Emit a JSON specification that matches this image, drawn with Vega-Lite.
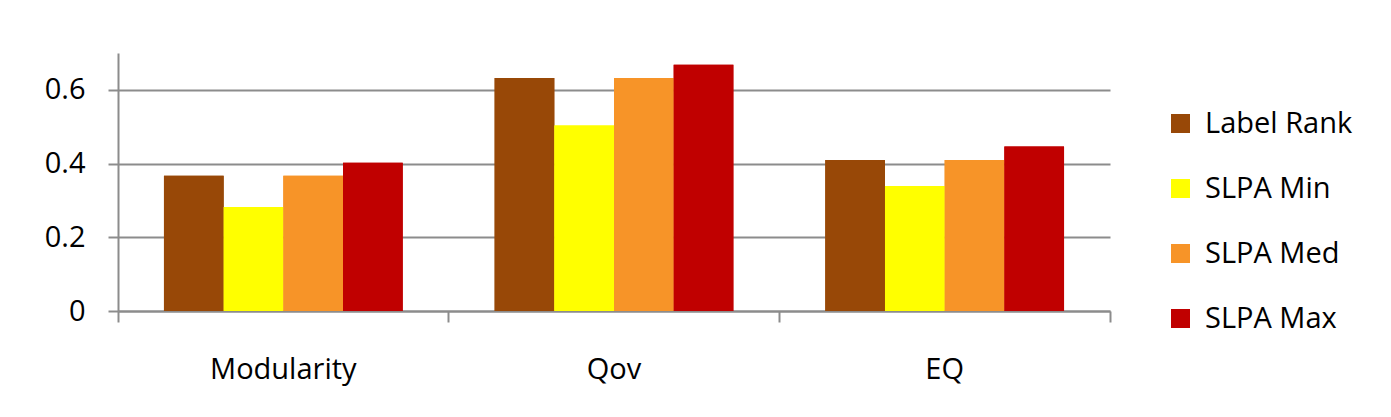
{
  "$schema": "https://vega.github.io/schema/vega-lite/v6.json",
  "width": 992,
  "height": 258,
  "autosize": {"type": "none"},
  "padding": {"left": 118, "top": 53, "right": 281, "bottom": 106},
  "background": "white",
  "data": {
    "values": [
      {"metric": "Modularity", "method": "Label Rank", "value": 0.367},
      {"metric": "Modularity", "method": "SLPA Min", "value": 0.282},
      {"metric": "Modularity", "method": "SLPA Med", "value": 0.367},
      {"metric": "Modularity", "method": "SLPA Max", "value": 0.402},
      {"metric": "Qov", "method": "Label Rank", "value": 0.632},
      {"metric": "Qov", "method": "SLPA Min", "value": 0.503},
      {"metric": "Qov", "method": "SLPA Med", "value": 0.632},
      {"metric": "Qov", "method": "SLPA Max", "value": 0.668},
      {"metric": "EQ", "method": "Label Rank", "value": 0.41},
      {"metric": "EQ", "method": "SLPA Min", "value": 0.339},
      {"metric": "EQ", "method": "SLPA Med", "value": 0.41},
      {"metric": "EQ", "method": "SLPA Max", "value": 0.446}
    ]
  },
  "config": {
    "view": {"stroke": null},
    "font": "Open Sans"
  },
  "encoding": {
    "y": {
      "field": "value",
      "type": "quantitative",
      "scale": {"domain": [0, 0.7], "nice": false, "zero": true},
      "axis": {
        "title": null,
        "values": [0, 0.2, 0.4, 0.6],
        "format": "~g",
        "grid": true,
        "gridColor": "#8c8c8c",
        "gridWidth": 2,
        "domainColor": "#8c8c8c",
        "domainWidth": 2,
        "tickColor": "#8c8c8c",
        "tickWidth": 2,
        "tickSize": 10,
        "labelFont": "Open Sans",
        "labelFontSize": 29,
        "labelColor": "black",
        "labelPadding": 23
      }
    },
    "xOffset": {
      "field": "method",
      "type": "nominal",
      "sort": ["Label Rank", "SLPA Min", "SLPA Med", "SLPA Max"],
      "scale": {"paddingInner": 0, "paddingOuter": 0.77}
    },
    "color": {
      "field": "method",
      "type": "nominal",
      "sort": ["Label Rank", "SLPA Min", "SLPA Med", "SLPA Max"],
      "scale": {
        "domain": ["Label Rank", "SLPA Min", "SLPA Med", "SLPA Max"],
        "range": ["#984807", "#FFFF00", "#F79428", "#C00000"]
      },
      "legend": {
        "title": null,
        "orient": "none",
        "legendX": 1048,
        "legendY": 56,
        "padding": 0,
        "symbolType": "square",
        "symbolSize": 361,
        "symbolStrokeWidth": 0,
        "labelFont": "Open Sans",
        "labelFontSize": 29,
        "labelColor": "black",
        "labelOffset": 10,
        "rowPadding": 35,
        "labelLimit": 300
      }
    }
  },
  "layer": [
    {
      "mark": {"type": "bar"},
      "encoding": {
        "x": {
          "field": "metric",
          "type": "nominal",
          "sort": null,
          "scale": {"paddingInner": 0, "paddingOuter": 0},
          "axis": {
            "orient": "bottom",
            "title": null,
            "labels": false,
            "bandPosition": 1,
            "tickExtra": true,
            "domainColor": "#8c8c8c",
            "domainWidth": 2,
            "tickColor": "#8c8c8c",
            "tickWidth": 2,
            "tickSize": 11
          }
        }
      }
    },
    {
      "mark": {"type": "bar"},
      "encoding": {
        "x": {
          "field": "metric",
          "type": "nominal",
          "sort": null,
          "axis": {
            "orient": "bottom",
            "title": null,
            "domain": false,
            "ticks": false,
            "tickSize": 0,
            "labelAngle": 0,
            "labelFont": "Open Sans",
            "labelFontSize": 29,
            "labelColor": "black",
            "labelBaseline": "alphabetic",
            "labelPadding": 67
          }
        }
      }
    }
  ],
  "resolve": {"axis": {"x": "independent"}}
}
